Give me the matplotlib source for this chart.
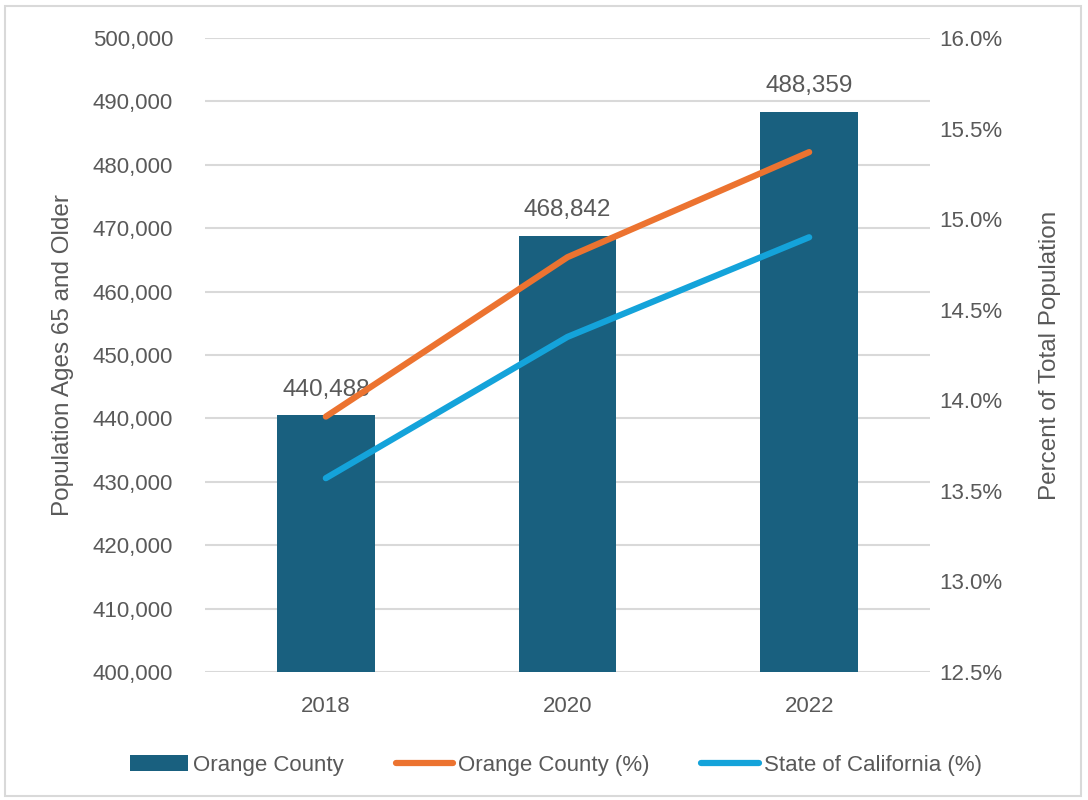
import numpy as np
import matplotlib.pyplot as plt
from matplotlib.patches import Rectangle
from matplotlib.ticker import FuncFormatter

plt.rcParams['font.family'] = ['Liberation Sans', 'DejaVu Sans']

years = ['2018', '2020', '2022']
oc_pop = [440488, 468842, 488359]
oc_pct = [13.91, 14.79, 15.37]
ca_pct = [13.57, 14.35, 14.90]

bar_color = '#19607f'
orange = '#ec7330'
blue = '#14a3da'
grey_text = '#595959'
grid_color = '#d9d9d9'

fig = plt.figure(figsize=(10.88, 8.0), dpi=100)
ax = fig.add_axes([205 / 1088, 1 - 672 / 800, 725 / 1088, 634 / 800])
ax2 = ax.twinx()

x = np.arange(len(years))
bars = ax.bar(x, oc_pop, width=0.405, color=bar_color, zorder=2, label='Orange County')
for xi, v in zip(x, oc_pop):
    ax.text(xi, v + 2300, f'{v:,}', ha='center', va='bottom', fontsize=17.5, color=grey_text)

ax.set_ylim(400000, 500000)
ax.set_yticks(np.arange(400000, 500001, 10000))
ax.yaxis.set_major_formatter(FuncFormatter(lambda v, p: f'{int(v):,}'))
ax.set_xlim(-0.5, 2.5)
ax.set_xticks(x)
ax.set_xticklabels(years)
ax.grid(axis='y', color=grid_color, linewidth=1.5, zorder=0)
ax.set_axisbelow(True)
ax.set_ylabel('Population Ages 65 and Older', fontsize=17.5, color=grey_text, labelpad=13)

l1, = ax2.plot(x, oc_pct, color=orange, linewidth=4.5, solid_capstyle='round', label='Orange County (%)')
l2, = ax2.plot(x, ca_pct, color=blue, linewidth=4.5, solid_capstyle='round', label='State of California (%)')
ax2.set_ylim(12.5, 16.0)
ax2.set_yticks(np.arange(12.5, 16.01, 0.5))
ax2.yaxis.set_major_formatter(FuncFormatter(lambda v, p: f'{v:.1f}%'))
ax2.set_ylabel('Percent of Total Population', fontsize=17.5, color=grey_text, labelpad=26)

for a in (ax, ax2):
    for s in a.spines.values():
        s.set_visible(False)
    a.tick_params(length=0, labelsize=16, labelcolor=grey_text)
ax.tick_params(axis='y', pad=23)
ax.tick_params(axis='x', pad=17)
ax2.tick_params(axis='y', pad=7)

fig.legend(handles=[bars, l1, l2], loc='center', bbox_to_anchor=(0.5 + 12 / 1088, 1 - 765 / 800),
           ncol=3, frameon=False, fontsize=16, labelcolor=grey_text,
           handlelength=2.6, handletextpad=0.2, columnspacing=2.35)

fig.add_artist(Rectangle((5 / 1088, 4 / 800), 1076 / 1088, 790 / 800, transform=fig.transFigure,
                         fill=False, edgecolor='#d9d9d9', linewidth=1.5))

fig.savefig('out.png', dpi=100, facecolor='white')
